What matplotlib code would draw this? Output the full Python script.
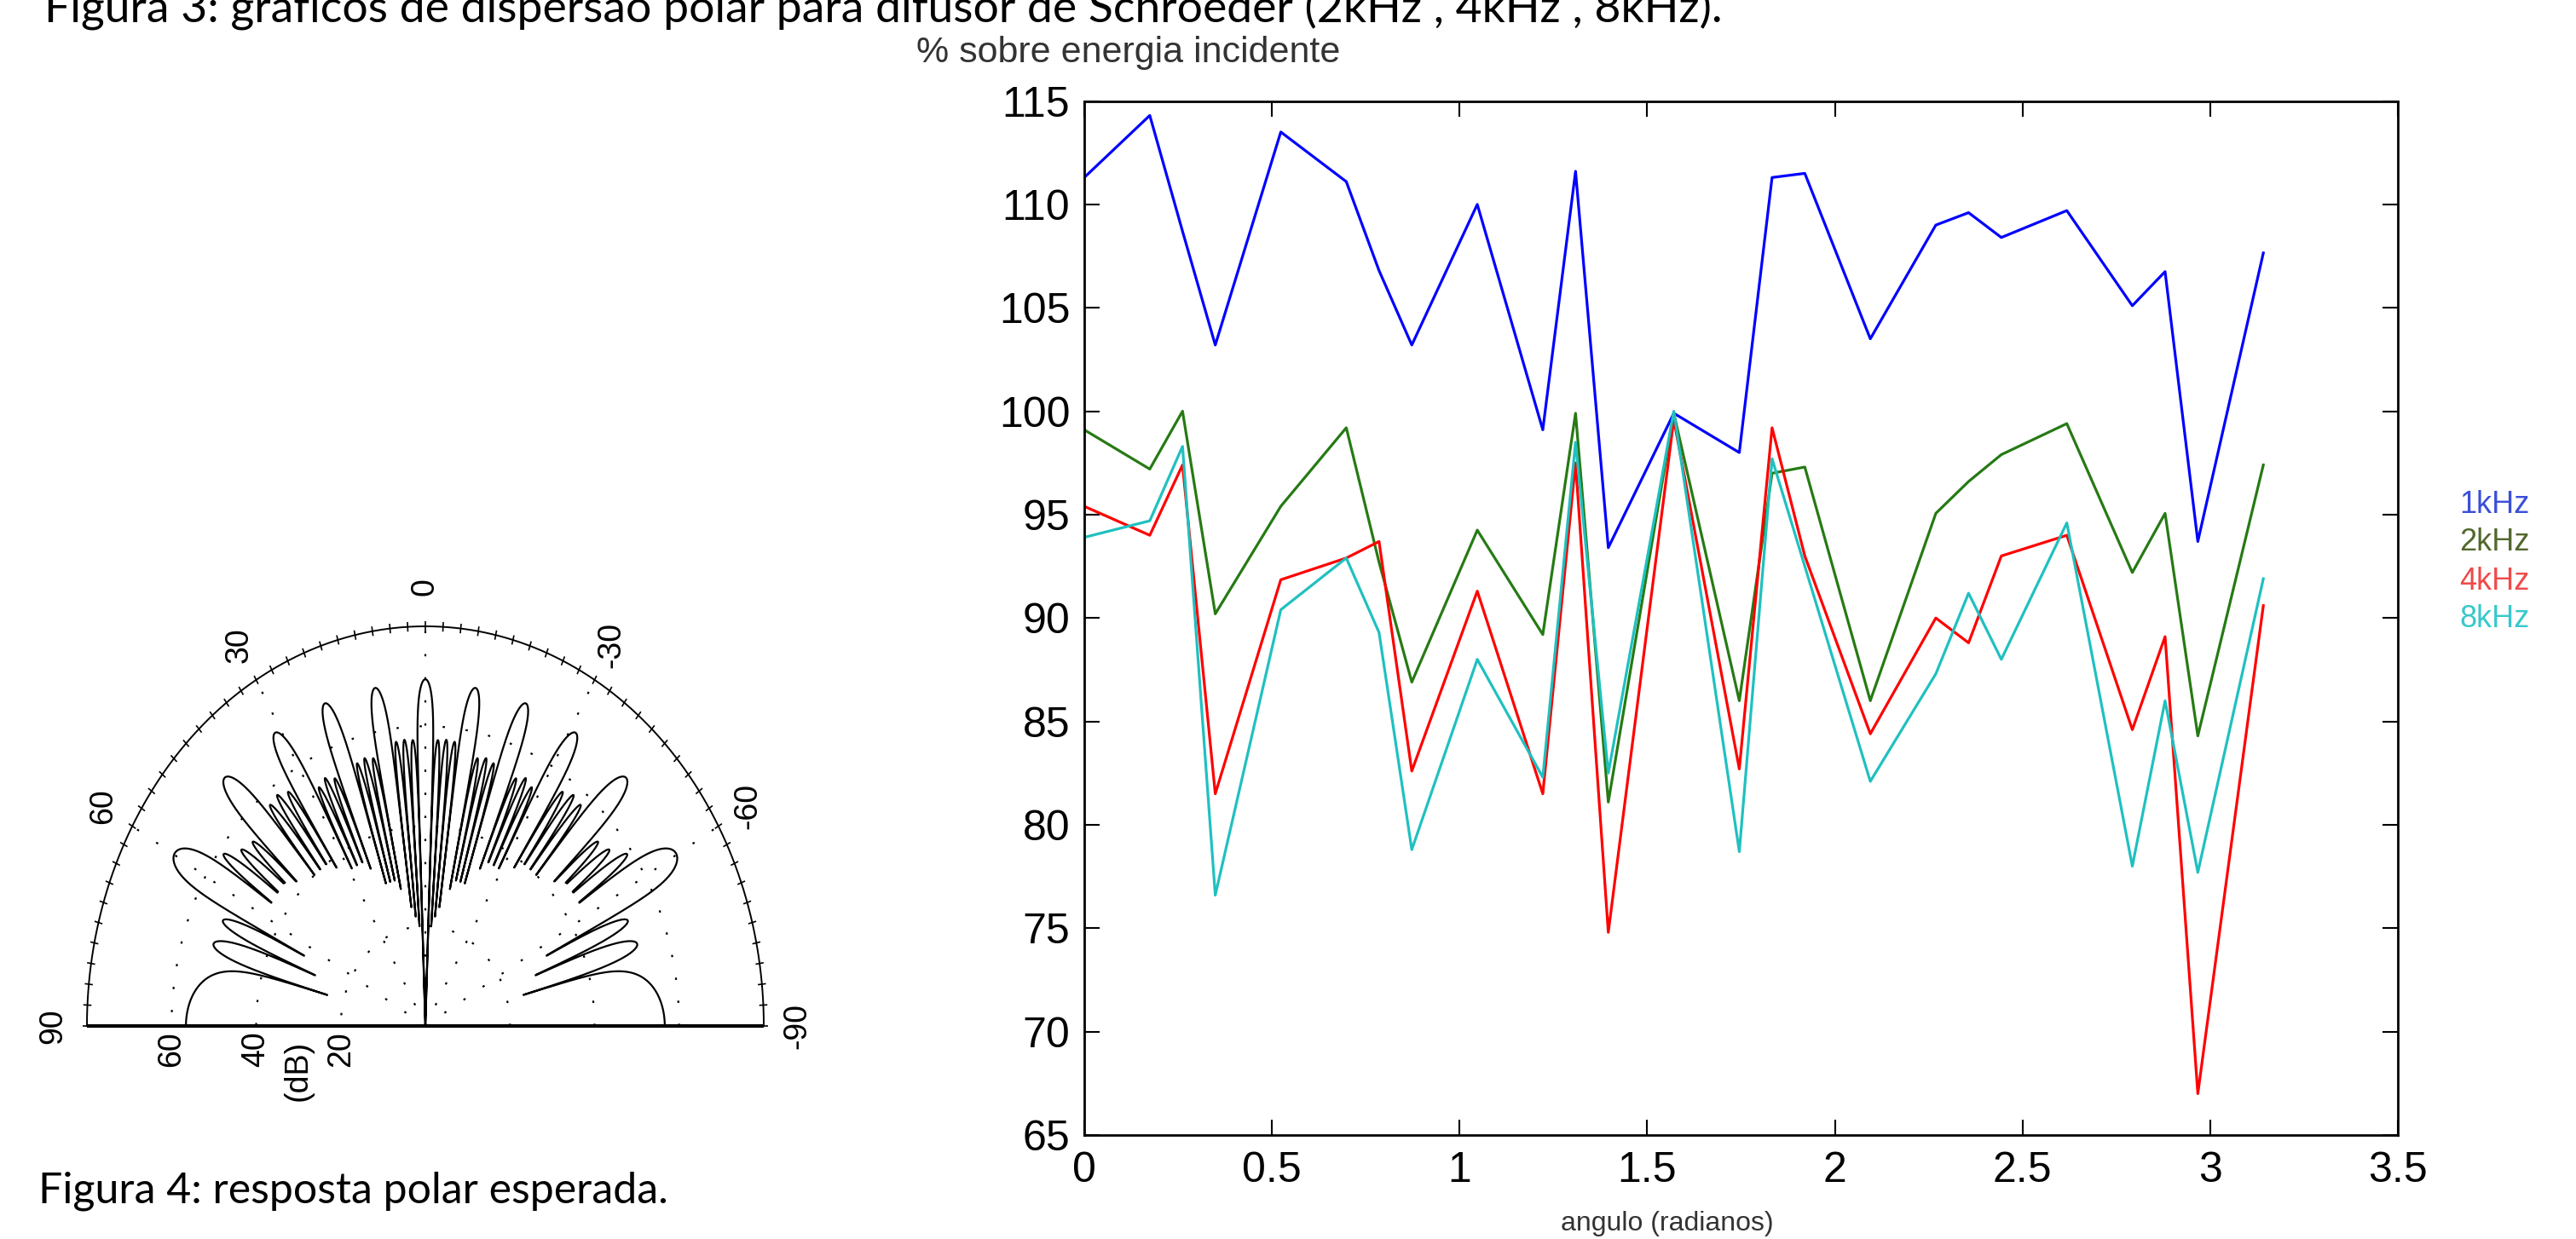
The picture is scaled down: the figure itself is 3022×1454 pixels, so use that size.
import numpy as np
import matplotlib
matplotlib.use('Agg')
import matplotlib.pyplot as plt
from matplotlib.collections import LineCollection

# ---- dados: % sobre energia incidente x angulo ----
angulo_graus = [0, 10, 15, 20, 30, 40, 45, 50, 60, 70, 75, 80, 90,
                100, 105, 110, 120, 130, 135, 140, 150, 160, 165, 170, 180]
e_1khz = [111.3, 114.3, 108.7, 103.2, 113.5, 111.1, 106.8, 103.2, 110.0, 99.1, 111.6, 93.4, 99.9,
          98.0, 111.3, 111.5, 103.5, 109.0, 109.6, 108.4, 109.7, 105.1, 106.75, 93.7, 107.65]
e_2khz = [99.1, 97.2, 100.0, 90.2, 95.4, 99.2, 92.7, 86.9, 94.25, 89.2, 99.9, 81.1, 99.9,
          86.0, 97.0, 97.3, 86.0, 95.06, 96.6, 97.9, 99.4, 92.2, 95.06, 84.3, 97.4]
e_4khz = [95.4, 94.0, 97.4, 81.5, 91.85, 92.9, 93.7, 82.6, 91.3, 81.5, 97.5, 74.8, 99.6,
          82.7, 99.2, 93.0, 84.4, 90.0, 88.8, 93.0, 94.0, 84.6, 89.1, 67.0, 90.6]
e_8khz = [93.9, 94.7, 98.3, 76.6, 90.4, 92.9, 89.3, 78.8, 88.0, 82.3, 98.5, 82.5, 100.0,
          78.7, 97.7, 92.5, 82.1, 87.3, 91.2, 88.0, 94.6, 78.0, 86.0, 77.7, 91.9]
series = [e_1khz, e_2khz, e_4khz, e_8khz]
nomes = ['1kHz', '2kHz', '4kHz', '8kHz']
cores = ['#0000ff', '#267a14', '#ff0000', '#20c0c0']
cores_leg = ['#3a4fd8', '#52682c', '#f04a4a', '#38c8cc']

yticks = [65, 70, 75, 80, 85, 90, 95, 100, 105, 110, 115]
xticks = [0, 0.5, 1, 1.5, 2, 2.5, 3, 3.5]
xticklabels = ['0', '0.5', '1', '1.5', '2', '2.5', '3', '3.5']

# ---- dados: resposta polar esperada (lado positivo, espelhado) ----
nulos_graus = [1.98, 3.96, 5.94, 7.93, 11.95, 13.97, 16.02, 18.09, 22.30, 24.46, 26.65, 28.88,
               33.50, 35.91, 38.39, 40.96, 46.43, 49.38, 52.51, 55.89, 63.77, 68.67, 75.0, 105.0]
nulos_db = [0, 20, 22, 24, 28, 30, 30, 30, 34, 36, 36, 36,
            38, 40, 40, 40, 42, 44, 44, 44, 32, 28, 24, 0]
# lobo central, depois um lobo entre cada par de nulos
picos_db = [69.4, 57.3, 57.5, 57.3, 68.7, 55.0, 55.5, 55.0, 68.8, 54.0, 55.0, 54.0,
            68.6, 57.0, 58.0, 57.5, 68.7, 55.0, 56.0, 58.8, 68.6, 52.3, 52.7, 56.6]
# lobos principais um pouco mais largos que os secundarios
principal = [1, 0, 0, 0, 1, 0, 0, 0, 1, 0, 0, 0, 1, 0, 0, 0, 1, 0, 0, 0, 1, 0, 0, 1]
escala_db = 80.0
aneis_db = [20, 40, 60]
radiais = [0, 30, 60, -30, -60]
rotulos_ang = [0, 30, 60, 90, -30, -60, -90]


def curva_polar(teta):
    nul = np.array(nulos_graus)
    bordas = np.concatenate([-nul[::-1], nul])
    fl = np.array(nulos_db, float)
    pisos = np.concatenate([fl[::-1], fl])
    pk = np.array(picos_db, float)
    picos = np.concatenate([pk[:0:-1], pk])
    pr = np.array(principal, float)
    princ = np.concatenate([pr[:0:-1], pr])
    i = np.clip(np.searchsorted(bordas, teta) - 1, 0, len(picos) - 1)
    a, b = bordas[i], bordas[i + 1]
    c, hw = (a + b) / 2, (b - a) / 2
    u = np.clip((teta - c) / hw, -1, 1)
    g = np.maximum(np.cos(np.pi / 2 * u), 1e-9)
    fator = np.where(princ[i] > 0, 12.0, 18.0)
    lob = picos[i] + fator * np.log10(g)
    t = (teta - a) / (b - a)
    piso = pisos[i] * (1 - t) + pisos[i + 1] * t
    r = np.maximum(np.maximum(lob, piso), 0) / escala_db
    return r


W, H = 3022, 1454
fig = plt.figure(figsize=(W / 100, H / 100), dpi=100)
fam = ['Liberation Sans', 'DejaVu Sans']

# ---------------- painel polar ----------------
pax = fig.add_axes([0, 20 / H, 998 / W, 810 / H])
pax.set_xlim(-499 / 397, 499 / 397)
pax.set_ylim(-230 / 469, 580 / 469)
pax.axis('off')

th = np.linspace(-90, 90, 18001)
rr = curva_polar(th)
pax.plot(-rr * np.sin(np.radians(th)), rr * np.cos(np.radians(th)), color='black', lw=1.6)

arco = np.radians(np.linspace(-90, 90, 721))
pax.plot(-np.sin(arco), np.cos(arco), color='black', lw=1.4)
for db in aneis_db:
    r = db / escala_db
    pax.plot(-r * np.sin(arco), r * np.cos(arco), color='black', lw=1.6,
             linestyle=(0, (1.2, 11)))
for ang in radiais:
    a = np.radians(ang)
    pax.plot([0, -np.sin(a)], [0, np.cos(a)], color='black', lw=1.6, linestyle=(0, (1.2, 11)))
marcas = np.radians(np.arange(-90, 91, 3))
segs = [[(-0.988 * np.sin(m), 0.988 * np.cos(m)), (-1.012 * np.sin(m), 1.012 * np.cos(m))]
        for m in marcas]
pax.add_collection(LineCollection(segs, colors='black', linewidths=1.2))
pax.plot([-1, 1], [0, 0], color='black', lw=3.0, solid_capstyle='butt')

for ang in rotulos_ang:
    a = np.radians(ang)
    pax.text(-1.10 * np.sin(a), 1.10 * np.cos(a), str(ang), rotation=90, ha='center', va='center',
             fontsize=27, family=fam)
for db in [60, 40, 20]:
    pax.text(-db / escala_db, -0.058, str(db), rotation=90, ha='center', va='center',
             fontsize=27, family=fam)
pax.text(-0.375, -0.112, '(dB)', rotation=90, ha='center', va='center',
         fontsize=27, family=fam)

fig.text(45 / W, 1 - 1398 / H, 'Figura 4: resposta polar esperada.', ha='left', va='center',
         fontsize=36, family=['Lato', 'DejaVu Sans'])
fig.text(52 / W, 1 - 26 / H,
         'Figura 3: gráficos de dispersão polar para difusor de Schroeder (2kHz , 4kHz , 8kHz).',
         ha='left', va='baseline', fontsize=38.5, family=['Lato', 'DejaVu Sans'])

# ---------------- grafico de linhas ----------------
ax = fig.add_axes([1272 / W, 1 - 1332 / H, 1541 / W, 1213.5 / H])
x = np.radians(angulo_graus)
for y, cor in zip(series, cores):
    ax.plot(x, y, color=cor, lw=2.3)
ax.set_xlim(0, 3.5)
ax.set_ylim(65, 115)
ax.set_xticks(xticks)
ax.set_xticklabels(xticklabels)
ax.set_yticks(yticks)
for s in ax.spines.values():
    s.set_linewidth(2.0)
fam_tick = ['Liberation Sans Narrow', 'Liberation Sans']
ax.tick_params(direction='in', top=True, right=True, length=13, width=1.5,
               labelsize=36, labelfontfamily=fam_tick)
ax.tick_params(axis='y', pad=12)
ax.tick_params(axis='x', pad=14)

fig.text(1075 / W, 1 - 62 / H, '% sobre energia incidente', ha='left', va='center',
         fontsize=31, color='#333333', family=fam)
fig.text(1956 / W, 1 - 1436 / H, 'angulo (radianos)', ha='center', va='center',
         fontsize=23, color='#333333', family=fam)

for i, (nome, cor) in enumerate(zip(nomes, cores_leg)):
    fig.text(2885 / W, 1 - (592 + i * 45) / H, nome, ha='left', va='center',
             fontsize=26, color=cor, family=fam)

fig.savefig('out.png', dpi=100)
